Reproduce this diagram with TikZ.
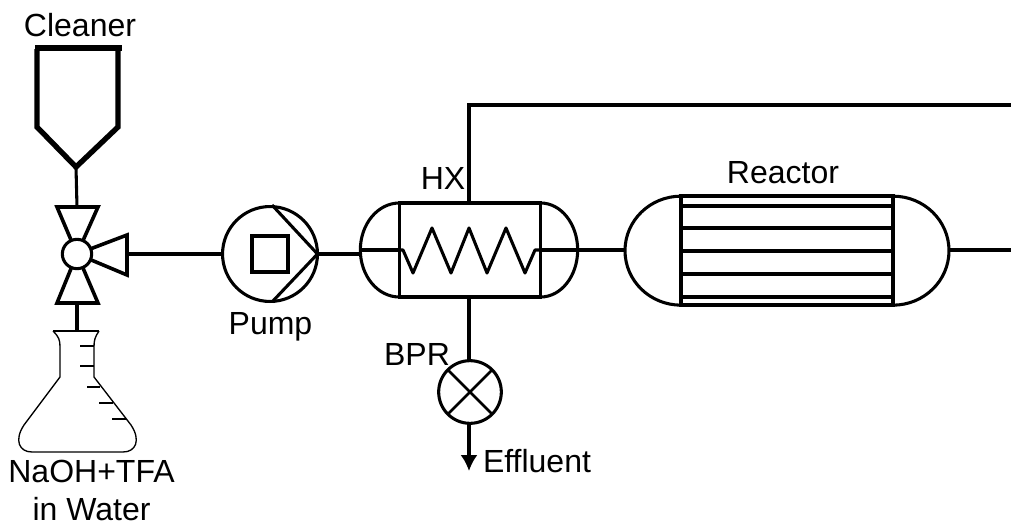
\documentclass[tikz,border=0pt]{standalone}
\usepackage{fontspec}
\setmainfont{Liberation Sans}
\usetikzlibrary{arrows.meta}
\tikzset{
 pipe/.style={line width=2.3pt},
 unit/.style={draw,line width=2.3pt,inner sep=0pt,outer sep=0pt},
 shell/.style={draw,line width=2.7pt,inner sep=0pt,outer sep=0pt},
 thickline/.style={line width=2.7pt},
 flaskline/.style={line width=1pt},
 lbl/.style={anchor=base,inner sep=0pt,font=\fontsize{24}{28}\selectfont}
}
\begin{document}
\begin{tikzpicture}[>=Latex,x=0.75pt,y=-0.75pt]
 \useasboundingbox (0,0) rectangle (1011,525);
 % free ends and corners of the lines
 \coordinate (HopperTip) at (76,167);
 \coordinate (ValveTop) at (77,207);
 \coordinate (ValveBot) at (77,303);
 \coordinate (ValveOut) at (127,254);
 \coordinate (FlaskTop) at (77,331);
 \coordinate (CornerUp) at (469,105);
 \coordinate (LoopEnd) at (1011,105);
 \coordinate (ReacEnd) at (1011,250);
 \coordinate (EffEnd) at (469,471);
 % hopper
 \draw[line width=4pt,miter limit=2] (37,49)--(37,127)--(HopperTip)--(118,127)--(118,49);
 \draw[line width=4.6pt] (35,48)--(122,48);
 % valve
 \draw[thickline] (ValveTop)--(57,207)--(77,254)--(98,207)--cycle;
 \draw[thickline] (ValveBot)--(57,303)--(77,254)--(98,303)--cycle;
 \draw[thickline] (ValveOut)--(127,235)--(77,254)--(127,275)--cycle;
 \node[unit,circle,fill=white,minimum size=30pt-8pt] (valve) at (77,254) {};
 % flask
 \draw[flaskline] (53,331)--(99,331);
 \draw[flaskline] (53,331) .. controls (59,337) and (60,340) .. (60,347)--(60,377)
   --(24,425) .. controls (14,440) and (19,452) .. (32,452)--(123,452)
   .. controls (136,452) and (141,440) .. (131,425)--(94,377)--(94,347)
   .. controls (94,340) and (95,337) .. (99,331);
 \draw[flaskline] (80,346)--(94,346) (80,366)--(94,366) (87,387)--(100,387)
   (99,403)--(113,403) (112,419)--(126,419);
 % pump
 \node[unit,circle,minimum size=73.5pt-2.3pt] (pump) at (270,254) {};
 \node[shell,minimum size=27pt] (pumpbox) at (270,254) {};
 \draw[pipe,line join=round] (272,205)--(pump.east)--(272,302);
 % heat exchanger
 \node[shell,minimum width=106pt,minimum height=70.5pt] (hx) at (470,250) {};
 \draw[pipe] (hx.north west) arc[start angle=270,end angle=90,x radius=39,y radius=47];
 \draw[pipe] (hx.north east) arc[start angle=-90,end angle=90,x radius=37,y radius=47];
 \draw[pipe] (hx.west)--++(-39,0) (hx.east)--++(37,0);
 \draw[pipe,line join=round] (hx.west)--(403,250)--(413,273)--(432,228)--(451,273)--(469,228)
   --(487,273)--(506,228)--(525,273)--(535,250)--(hx.east);
 % reactor
 \node[shell,minimum width=159pt,minimum height=81.5pt] (reactor) at (787,250.5) {};
 \draw[pipe] (reactor.north west) arc[start angle=270,end angle=90,x radius=56,y radius=54.5];
 \draw[pipe] (reactor.north east) arc[start angle=-90,end angle=90,x radius=56,y radius=54.5];
 \foreach \tubey in {206,228,251,274,297}
  \draw[thickline] (681,\tubey)--(893,\tubey);
 % BPR
 \node[unit,circle,minimum size=47pt] (bpr) at (470,392) {};
 \draw[pipe,line width=2pt] (bpr.north west)--(bpr.south east) (bpr.north east)--(bpr.south west);
 % connectors
 \draw[pipe] (HopperTip)--(ValveTop);
 \draw[pipe] (ValveBot)--(FlaskTop);
 \draw[pipe] (ValveOut)--(pump.west);
 \draw[pipe] (pump.east)--(361,254);
 \draw[pipe] (578,250)--(625,250);
 \draw[pipe] (949,250)--(ReacEnd);
 \draw[pipe] (469,203)--(CornerUp)--(LoopEnd);
 \draw[pipe] (469,297)--(469,360);
 \draw[pipe,-{Latex[length=12pt,width=13pt]}] (469,424)--(EffEnd);
 % labels
 \node[lbl] (cleaner) at (80,36.5) {Cleaner};
 \node[lbl] (naoh) at (91.5,482) {NaOH+TFA};
 \node[lbl] (water) at (91.5,520) {in Water};
 \node[lbl] (pumplabel) at (270.5,334) {Pump};
 \node[lbl] (hxlabel) at (443,189) {HX};
 \node[lbl] (reactorlabel) at (783,183) {Reactor};
 \node[lbl] (bprlabel) at (417,365) {BPR};
 \node[lbl] (effluent) at (537,472) {Effluent};
\end{tikzpicture}
\end{document}
